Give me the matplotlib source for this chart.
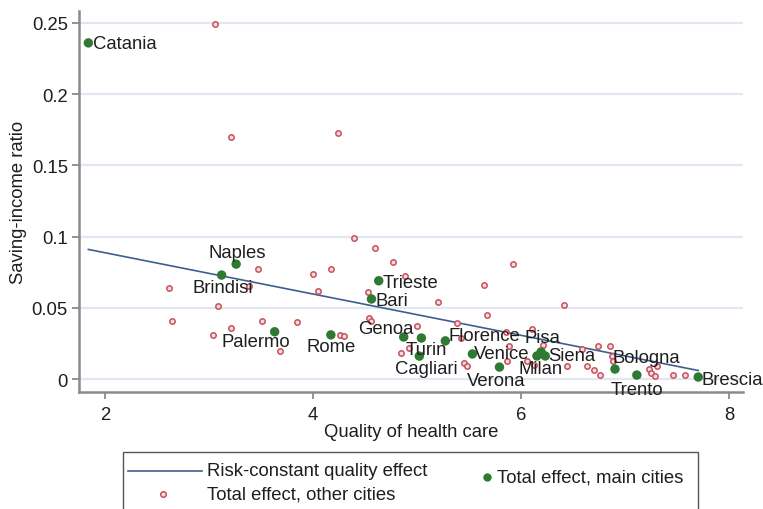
import matplotlib
matplotlib.use("Agg")
import matplotlib.pyplot as plt
from matplotlib.lines import Line2D
from matplotlib.patches import Rectangle

plt.rcParams['font.family'] = ['Liberation Sans', 'DejaVu Sans']

# --- datos ---
# ciudades principales (puntos verdes)
main_cities = ['Catania', 'Naples', 'Brindisi', 'Palermo', 'Rome', 'Trieste', 'Bari',
               'Genoa', 'Turin', 'Cagliari', 'Florence', 'Venice', 'Verona', 'Pisa',
               'Siena', 'Milan', 'Bologna', 'Trento', 'Brescia']
main_x = [1.84, 3.26, 3.12, 3.63, 4.17, 4.63, 4.56, 4.87, 5.04, 5.02, 5.27, 5.53,
          5.79, 6.19, 6.23, 6.15, 6.90, 7.11, 7.70]
main_y = [0.236, 0.0807, 0.073, 0.0332, 0.031, 0.069, 0.0562, 0.0295, 0.0288,
          0.0161, 0.0268, 0.0176, 0.0084, 0.019, 0.0162, 0.0162, 0.0070, 0.0028, 0.0014]

# otras ciudades (círculos rojos)
other_x = [3.06, 3.21, 4.24, 4.39, 4.59, 2.61, 2.64, 3.09, 3.04, 3.21, 3.47, 3.38,
           3.51, 3.68, 3.84, 4.00, 4.05, 4.17, 4.26, 4.30, 4.53, 4.54, 4.56, 4.77,
           4.88, 5.20, 5.64, 5.92, 5.67, 5.00, 4.92, 4.84, 5.38, 5.42, 5.45, 5.48,
           5.85, 5.88, 5.86, 6.05, 6.12, 6.10, 6.41, 6.21, 6.44, 6.58, 6.63, 6.70,
           6.76, 6.74, 6.85, 6.87, 6.88, 7.23, 7.25, 7.28, 7.30, 7.46, 7.57]
other_y = [0.249, 0.170, 0.173, 0.099, 0.092, 0.064, 0.041, 0.051, 0.031, 0.036,
           0.077, 0.065, 0.041, 0.020, 0.040, 0.074, 0.062, 0.077, 0.031, 0.030,
           0.061, 0.043, 0.041, 0.082, 0.072, 0.054, 0.066, 0.081, 0.045, 0.037,
           0.022, 0.018, 0.039, 0.029, 0.011, 0.009, 0.033, 0.023, 0.013, 0.013,
           0.010, 0.035, 0.052, 0.024, 0.009, 0.021, 0.009, 0.006, 0.003, 0.023,
           0.023, 0.016, 0.013, 0.007, 0.004, 0.002, 0.009, 0.003, 0.003]

# recta del efecto de calidad con riesgo constante
line_x = [1.84, 7.70]
line_y = [0.091, 0.006]

x_ticks = [2, 4, 6, 8]
y_ticks = [0, 0.05, 0.1, 0.15, 0.2, 0.25]
y_ticklabels = ['0', '0.05', '0.1', '0.15', '0.2', '0.25']

# desplazamiento de las etiquetas (píxeles) y alineación
label_pos = {
    'Catania': (5, -1, 'left'), 'Naples': (1, 12, 'center'), 'Brindisi': (1, -12, 'center'),
    'Palermo': (-19, -10, 'center'), 'Rome': (0, -12, 'center'), 'Trieste': (4, -2, 'left'),
    'Bari': (4, -2, 'left'), 'Genoa': (-18, 9, 'center'), 'Turin': (5, -11, 'center'),
    'Cagliari': (7, -12, 'center'), 'Florence': (3, 5, 'left'), 'Venice': (2, 0, 'left'),
    'Verona': (-3, -13, 'center'), 'Pisa': (1, 14, 'center'), 'Siena': (3, 0, 'left'),
    'Milan': (4, -13, 'center'), 'Bologna': (-2, 12, 'left'), 'Trento': (0, -14, 'center'),
    'Brescia': (3, -2, 'left'),
}

line_color = '#3d5f8f'
red = '#c9505e'
green = '#2f7a33'
fs = 13.3

fig = plt.figure(figsize=(7.63, 5.10), dpi=100)
ax = fig.add_axes([79 / 763, 1 - 393 / 510, 664 / 763, 381 / 510])

ax.set_xlim(1.75, 8.13)
ax.set_ylim(-0.0091, 0.2584)

for yv in y_ticks:
    ax.axhline(yv, color='#e0e7f0', lw=1.6, zorder=0)

ax.plot(line_x, line_y, color=line_color, lw=1.2, zorder=2)
ax.scatter(other_x, other_y, s=15, facecolor='#f6dcdc', edgecolor=red, linewidth=1.1, zorder=3)
ax.scatter(main_x, main_y, s=46, color=green, edgecolor='none', zorder=4)

for name, xv, yv in zip(main_cities, main_x, main_y):
    dx, dy, ha = label_pos[name]
    ax.annotate(name, (xv, yv), xytext=(dx, dy), textcoords='offset pixels',
                ha=ha, va='center', fontsize=fs, color='#1e1e1e', zorder=5)

for s in ['top', 'right']:
    ax.spines[s].set_visible(False)
for s in ['left', 'bottom']:
    ax.spines[s].set_color('#8a8a8a')
    ax.spines[s].set_linewidth(1.8)

ax.set_xticks(x_ticks)
ax.set_yticks(y_ticks)
ax.set_yticklabels(y_ticklabels)
ax.tick_params(axis='both', colors='#8a8a8a', length=5, width=1.3, labelsize=fs,
               labelcolor='#1e1e1e')
ax.tick_params(axis='y', pad=3)
ax.tick_params(axis='x', pad=5)

ax.set_xlabel('Quality of health care', fontsize=fs, color='#1e1e1e', labelpad=0)
ax.set_ylabel('Saving-income ratio', fontsize=fs, color='#1e1e1e', labelpad=3)

# --- leyenda dibujada a mano ---
W, H = 763, 510
fig.add_artist(Rectangle((123 / W, -0.05), (698 - 123) / W, 0.05 + (H - 453) / H,
                         transform=fig.transFigure, facecolor='white',
                         edgecolor='#555555', lw=1.0))
fig.add_artist(Line2D([128 / W, 202 / W], [1 - 472 / H] * 2, transform=fig.transFigure,
                      color=line_color, lw=1.2))
fig.text(207 / W, 1 - 472 / H, 'Risk-constant quality effect', fontsize=fs,
         va='center', ha='left', color='#1e1e1e')
fig.add_artist(Line2D([163 / W], [1 - 495 / H], transform=fig.transFigure, marker='o',
                      ms=4, mfc='#f6dcdc', mec=red, mew=1.1, ls='none'))
fig.text(207 / W, 1 - 495 / H, 'Total effect, other cities', fontsize=fs,
         va='center', ha='left', color='#1e1e1e')
fig.add_artist(Line2D([487 / W], [1 - 478 / H], transform=fig.transFigure, marker='o',
                      ms=6, mfc=green, mec='none', ls='none'))
fig.text(497 / W, 1 - 478 / H, 'Total effect, main cities', fontsize=fs,
         va='center', ha='left', color='#1e1e1e')

fig.savefig('out.png', dpi=100)
